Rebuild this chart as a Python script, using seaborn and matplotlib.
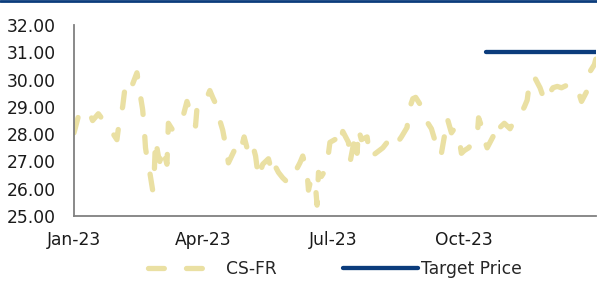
import pandas as pd
import matplotlib
matplotlib.use("Agg")
import matplotlib.pyplot as plt
from matplotlib.lines import Line2D
import seaborn as sns

# === DATA ===
# days after 1 Jan 2023
cs_fr_day = [0, 3, 10, 13, 17, 22, 25, 30, 32, 34, 36, 38, 40, 44, 46, 48, 49, 50, 52, 53,
             55, 56, 57, 59, 60, 62, 65, 66, 69, 72, 76, 79, 82, 85, 86, 90, 93, 95, 97, 101,
             102, 104, 106, 108, 113, 116, 119, 122, 125, 127, 129, 132, 136, 139, 141, 143, 146, 150, 152, 156,
             158, 160, 163, 164, 166, 169, 170, 171, 173, 176, 178, 179, 184, 186, 188, 192, 193, 195, 197, 198,
             199, 201, 205, 207, 211, 216, 219, 221, 224, 227, 229, 233, 234, 235, 237, 239, 242, 245, 247, 250,
             252, 255, 257, 259, 261, 264, 266, 269, 271, 273, 276, 279, 282, 283, 285, 286, 289, 291, 293, 297,
             298, 301, 305, 308, 312, 315, 317, 319, 322, 326, 328, 329, 332, 335, 338, 341, 345, 348, 352, 355,
             357, 359, 361, 364, 365]
cs_fr = [28.05, 28.65, 28.9, 28.5, 28.75, 28.4, 28.2, 27.8, 28.6, 29.0, 29.85, 29.9, 29.7, 30.25, 29.55, 28.9, 28.3, 27.5, 26.8, 26.6,
         25.95, 26.4, 27.8, 27.2, 27.0, 27.5, 26.9, 28.4, 28.15, 28.45, 28.6, 29.2, 28.7, 28.3, 28.95, 29.0, 29.35, 29.6, 29.35, 28.9,
         28.5, 28.15, 27.6, 26.95, 27.5, 27.3, 27.9, 27.3, 27.6, 27.2, 26.4, 26.9, 27.1, 26.5, 26.8, 26.6, 26.4, 26.2, 26.5, 26.75,
         26.95, 27.2, 26.6, 25.95, 26.4, 26.05, 25.4, 26.6, 26.45, 26.7, 27.3, 27.7, 27.85, 27.6, 28.1, 27.7, 26.95, 27.5, 28.0, 27.3,
         28.2, 27.8, 27.9, 27.15, 27.3, 27.5, 27.7, 27.85, 27.6, 27.75, 27.9, 28.25, 28.9, 29.0, 29.3, 29.35, 29.1, 28.6, 28.45, 28.2,
         27.85, 27.9, 27.3, 27.9, 28.6, 28.05, 28.2, 27.95, 27.3, 27.4, 27.5, 27.7, 27.9, 28.6, 28.3, 27.95, 27.5, 27.7, 27.9, 28.45,
         28.25, 28.4, 28.2, 28.5, 28.7, 29.0, 29.25, 30.06, 30.1, 29.7, 29.4, 29.2, 29.45, 29.7, 29.75, 29.7, 29.8, 29.85, 29.7, 29.2,
         29.4, 29.6, 30.3, 30.55, 30.75]

target_dates = ["2023-10-16", "2024-01-01"]
target_price = [31.0, 31.0]

x_tick_dates = ["2023-01-01", "2023-04-01", "2023-07-01", "2023-10-01", "2024-01-01"]
x_tick_labels = ["Jan-23", "Apr-23", "Jul-23", "Oct-23", ""]
y_ticks = [25, 26, 27, 28, 29, 30, 31, 32]

# === BUILD FRAMES ===
price_df = pd.DataFrame({
    "date": pd.Timestamp("2023-01-01") + pd.to_timedelta(cs_fr_day, unit="D"),
    "price": cs_fr,
})
target_df = pd.DataFrame({"date": pd.to_datetime(target_dates), "price": target_price})

# === STYLE ===
sns.set_style("white")
plt.rcParams["font.family"] = ["DejaVu Sans"]
fs = 12.3
khaki = "#EAE0A3"
navy = "#0B3C7C"
grey = "#808080"

fig = plt.figure(figsize=(5.97, 2.81), dpi=100)
ax = fig.add_axes([0.124, 0.231, 0.874, 0.68])

sns.lineplot(data=price_df, x="date", y="price", ax=ax, color=khaki, lw=3.8,
             linestyle=(0, (3, 4.2)), dash_capstyle="round", label="CS-FR")
sns.lineplot(data=target_df, x="date", y="price", ax=ax, color=navy, lw=3.1,
             solid_capstyle="round", label="Target Price")

ax.set_xlim(pd.Timestamp("2023-01-01"), pd.Timestamp("2024-01-01"))
ax.set_ylim(25, 32)
ax.set_xticks(pd.to_datetime(x_tick_dates))
ax.set_xticklabels(x_tick_labels)
ax.set_yticks(y_ticks)
ax.yaxis.set_major_formatter(matplotlib.ticker.FormatStrFormatter("%.2f"))
ax.set_xlabel("")
ax.set_ylabel("")

for side in ["top", "right"]:
    ax.spines[side].set_visible(False)
for side in ["left", "bottom"]:
    ax.spines[side].set_color(grey)
    ax.spines[side].set_linewidth(1.3)

ax.tick_params(axis="x", length=5, width=1.3, color=grey, pad=6, labelsize=fs, labelcolor="#1a1a1a")
ax.tick_params(axis="y", length=0, pad=13, labelsize=fs, labelcolor="#1a1a1a")

ax.legend(loc="upper center", bbox_to_anchor=(0.5, -0.22), ncol=2, frameon=False,
          fontsize=fs, handlelength=4.4, handletextpad=0.15, columnspacing=3.9,
          borderaxespad=0, borderpad=0.1)

# thin navy rule along the top edge
fig.add_artist(Line2D([0, 1], [0.997, 0.997], transform=fig.transFigure, color=navy, lw=2))

fig.savefig("out.png", dpi=100)
